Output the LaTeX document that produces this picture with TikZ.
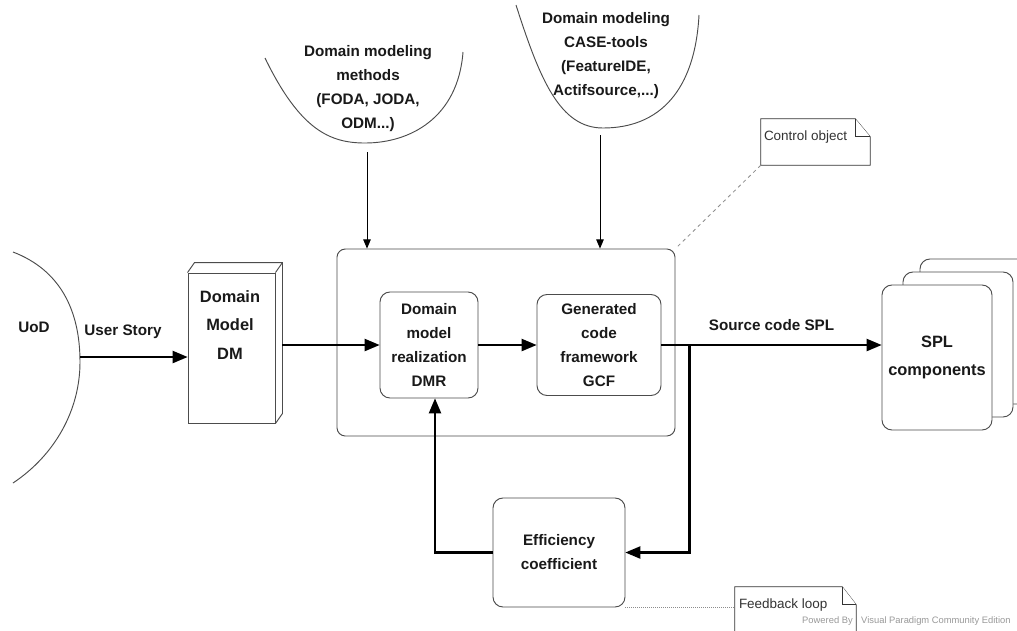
\documentclass[tikz,border=0pt]{standalone}
\usepackage{fontspec}
\setmainfont{Liberation Sans}
\usetikzlibrary{positioning,arrows,calc}
\newcommand\boxfont{\bfseries\fontsize{13}{20.5}\selectfont}
\newcommand\bigboxfont{\bfseries\fontsize{14}{24}\selectfont}
\newcommand\notefont{\fontsize{11.5}{14}\selectfont}
\tikzset{
  block/.style={draw=black!70, line width=0.8pt, fill=white, rounded corners=0.3cm,
    align=center, font=\boxfont, text=black!90, inner sep=0pt},
  ctrlframe/.style={draw=black!70, line width=0.8pt, rounded corners=0.25cm},
  cup/.style={draw=black!70, line width=0.8pt},
  flow/.style={draw=black, line width=2pt, -triangle 45},
  feed/.style={draw=black, line width=0.8pt, -triangle 45},
  txt/.style={align=center, font=\boxfont, text=black!90, inner sep=1pt},
  notebox/.style={draw=black!80, line width=0.7pt, fill=white},
  notetext/.style={font=\notefont, text=black!80, inner sep=0pt, anchor=west},
  notelink/.style={draw=black!45, line width=0.7pt, dashed}
}
\begin{document}
\begin{tikzpicture}[x=0.03cm, y=-0.03cm]
  \useasboundingbox (0,0) rectangle (1017,630);
  \clip (0,0) rectangle (1017,630);
  \fill[white] (0,0) rectangle (1017,630);

  % universe of discourse
  \draw[cup] (13,252) .. controls (60,270) and (80,310) .. (80,362) .. controls (80,410) and (55,455) .. (13,483);
  \node[txt] (uod) at (34,327) {UoD};
  \coordinate (uodedge) at (80,357);

  % domain model (3d box)
  \node[draw=black!70, line width=0.8pt, fill=white, minimum width=2.61cm, minimum height=4.5cm] (dm) at (231.5,348) {};
  \draw[black!70, line width=0.8pt] (dm.north west) -- ($(dm.north west)+(7,-10)$) -- ($(dm.north east)+(7,-10)$)
    -- ($(dm.south east)+(7,-10)$) -- (dm.south east);
  \draw[black!70, line width=0.8pt] (dm.north east) -- ($(dm.north east)+(7,-10)$);
  \node[txt, font=\bigboxfont] (dmlabel) at (230,325) {Domain\\Model\\DM};

  % control object
  \node[ctrlframe, minimum width=10.14cm, minimum height=5.61cm] (ctl) at (506,342.5) {};
  \node[block, minimum width=2.94cm, minimum height=3.18cm] (dmr) at (429,345) {Domain\\model\\realization\\DMR};
  \node[block, minimum width=3.72cm, minimum height=3.03cm] (gcf) at (599,345) {Generated\\code\\framework\\GCF};

  % SPL components stack
  \node[block, minimum width=3.3cm, minimum height=4.35cm] (spl3) at (975,331.5) {};
  \node[block, minimum width=3.3cm, minimum height=4.35cm] (spl2) at (958,344.5) {};
  \node[block, font=\bigboxfont, minimum width=3.3cm, minimum height=4.35cm] (spl) at (937,357.5) {SPL\\components};

  \node[block, minimum width=3.96cm, minimum height=3.27cm] (eff) at (559,552.5) {Efficiency\\coefficient};

  % domain modeling methods and tools
  \draw[cup] (265,58) .. controls (300,130) and (330,143) .. (365,143) .. controls (410,143) and (458,118) .. (463,52);
  \node[txt] (methods) at (368,89) {Domain modeling\\methods\\(FODA, JODA,\\ODM...)};
  \draw[cup] (516,5) .. controls (540,80) and (560,128) .. (603,128) .. controls (660,128) and (695,90) .. (699,15);
  \node[txt] (tools) at (606,56) {Domain modeling\\CASE-tools\\(FeatureIDE,\\Actifsource,...)};
  \coordinate (mtail) at (367,152);
  \coordinate (ttail) at (600,135);
  \draw[feed] (mtail) -- (mtail |- ctl.north);
  \draw[feed] (ttail) -- (ttail |- ctl.north);

  % main flow
  \draw[flow] (uodedge) -- node[txt, above=4.8mm, pos=0.4] {User Story} (uodedge -| dm.west);
  \draw[flow] ($(dm.east |- dmr.west)+(7,0)$) -- (dmr.west);
  \draw[flow] (dmr.east) -- (gcf.west);
  \coordinate (split) at ($(gcf.east)+(28,0)$);
  \draw[flow] (gcf.east) -- node[txt, above=3.6mm] {Source code SPL} (gcf.east -| spl.west);
  \draw[flow] (split) |- (eff.east);
  \draw[flow] (eff.west) -| ($(dmr.south)+(6,0)$);

  % notes
  \node[minimum width=3.27cm, minimum height=1.38cm, inner sep=0pt] (ctrl) at (815.5,142) {};
  \draw[notebox] (ctrl.south west) -- (ctrl.north west) -- ($(ctrl.north east)+(-15,0)$)
    -- ($(ctrl.north east)+(0,18)$) -- (ctrl.south east) -- cycle;
  \draw[notebox] ($(ctrl.north east)+(-15,0)$) |- ($(ctrl.north east)+(0,18)$);
  \node[notetext] (ctrltext) at ($(ctrl.west)+(3,-5)$) {Control object};
  \draw[notelink] (ctrl.south west) -- (ctl.north east);

  \node[minimum width=3.63cm, minimum height=1.89cm, inner sep=0pt] (fb) at (795.5,618.5) {};
  \draw[notebox] (fb.south west) -- (fb.north west) -- ($(fb.north east)+(-14,0)$)
    -- ($(fb.north east)+(0,18)$) -- (fb.south east) -- cycle;
  \draw[notebox] ($(fb.north east)+(-14,0)$) |- ($(fb.north east)+(0,18)$);
  \node[notetext] (fbtext) at ($(fb.north west)+(4,18)$) {Feedback loop};
  \draw[notelink, dashed, densely dotted] (eff.south east) -- (eff.south east -| fb.west);

  \node[font=\fontsize{8}{9}\selectfont, text=black!40, anchor=west, inner sep=0pt] (vp) at (802,621)
    {Powered By\hspace{5pt} Visual Paradigm Community Edition};
\end{tikzpicture}
\end{document}
